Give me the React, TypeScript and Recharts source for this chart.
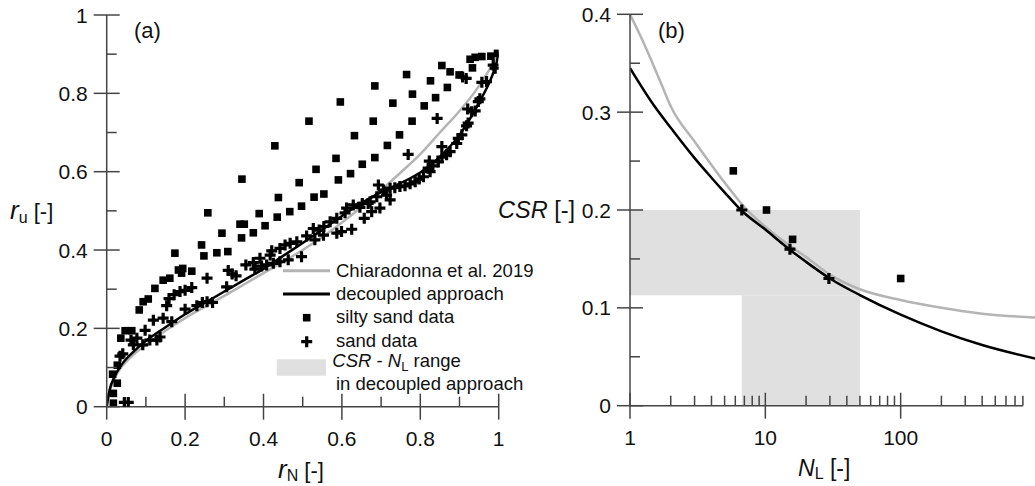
import {
  ComposedChart,
  Legend,
  Line,
  ReferenceArea,
  ReferenceLine,
  Scatter,
  XAxis,
  YAxis,
} from "recharts";

const FONT = "'Liberation Sans', Arial, sans-serif";
const AXIS = "#444";
const GRAY = "#b4b4b4";
const SHADE = "#e0e0e0";
const TXT = "#111";

// ---------- panel (a): r_u vs r_N ----------
const rTicks = [0, 0.1, 0.2, 0.3, 0.4, 0.5, 0.6, 0.7, 0.8, 0.9, 1];

const chiaradonnaA: [number, number][] = [
  [0, 0], [0.005, 0.03], [0.015, 0.06], [0.03, 0.09], [0.06, 0.125], [0.1, 0.158],
  [0.15, 0.194], [0.2, 0.226], [0.25, 0.255], [0.3, 0.283], [0.35, 0.312], [0.4, 0.341],
  [0.45, 0.37], [0.5, 0.4], [0.55, 0.433], [0.6, 0.47], [0.65, 0.51], [0.7, 0.553],
  [0.75, 0.598], [0.8, 0.645], [0.85, 0.7], [0.9, 0.755], [0.94, 0.805], [0.97, 0.85],
  [0.99, 0.885], [0.998, 0.9],
];

const decoupledA: [number, number][] = [
  [0, 0], [0.008, 0.045], [0.02, 0.077], [0.04, 0.11], [0.07, 0.142], [0.1, 0.168],
  [0.15, 0.203], [0.2, 0.236], [0.25, 0.265], [0.3, 0.294], [0.35, 0.323], [0.4, 0.352],
  [0.45, 0.385], [0.5, 0.418], [0.55, 0.452], [0.6, 0.487], [0.65, 0.52], [0.7, 0.548],
  [0.75, 0.571], [0.8, 0.598], [0.85, 0.638], [0.9, 0.694], [0.94, 0.758], [0.96, 0.795],
  [0.975, 0.825], [0.986, 0.852], [0.993, 0.872], [0.997, 0.89], [0.999, 0.905],
];

const siltySandA: [number, number][] = [
  [0.017, 0.009], [0.017, 0.034], [0.027, 0.06], [0.015, 0.083], [0.027, 0.106],
  [0.036, 0.175], [0.047, 0.194], [0.064, 0.194], [0.083, 0.247], [0.093, 0.268],
  [0.106, 0.275], [0.123, 0.302], [0.144, 0.323], [0.161, 0.328], [0.174, 0.392],
  [0.183, 0.349], [0.194, 0.353], [0.191, 0.341], [0.217, 0.346], [0.242, 0.413],
  [0.248, 0.385], [0.258, 0.495], [0.281, 0.393], [0.309, 0.396], [0.294, 0.443],
  [0.344, 0.431], [0.34, 0.466], [0.351, 0.466], [0.345, 0.581], [0.374, 0.444],
  [0.389, 0.493], [0.404, 0.462], [0.429, 0.666], [0.438, 0.534], [0.435, 0.484],
  [0.467, 0.498], [0.491, 0.572], [0.497, 0.512], [0.516, 0.729], [0.529, 0.535],
  [0.534, 0.606], [0.554, 0.543], [0.585, 0.634], [0.591, 0.579], [0.596, 0.778],
  [0.622, 0.595], [0.632, 0.692], [0.652, 0.619], [0.684, 0.636], [0.684, 0.819],
  [0.68, 0.729], [0.716, 0.667], [0.73, 0.775], [0.747, 0.694], [0.765, 0.848],
  [0.779, 0.729], [0.78, 0.798], [0.81, 0.768], [0.826, 0.832], [0.839, 0.789],
  [0.855, 0.871], [0.869, 0.815], [0.876, 0.855], [0.899, 0.847], [0.933, 0.865],
  [0.927, 0.887], [0.94, 0.892], [0.957, 0.894], [0.98, 0.895], [0.997, 0.902],
];

const sandA: [number, number][] = [
  [0.055, 0.011], [0.045, 0.011], [0.041, 0.135], [0.034, 0.129], [0.068, 0.158],
  [0.077, 0.175], [0.062, 0.17], [0.098, 0.195], [0.092, 0.158], [0.11, 0.17],
  [0.128, 0.17], [0.136, 0.178], [0.119, 0.221], [0.144, 0.226], [0.166, 0.217],
  [0.153, 0.258], [0.159, 0.276], [0.172, 0.286], [0.187, 0.294], [0.2, 0.297],
  [0.217, 0.304], [0.2, 0.249], [0.23, 0.258], [0.244, 0.266], [0.256, 0.268],
  [0.27, 0.266], [0.256, 0.328], [0.306, 0.306], [0.31, 0.348], [0.32, 0.339],
  [0.33, 0.334], [0.355, 0.362], [0.374, 0.368], [0.391, 0.379], [0.417, 0.387],
  [0.421, 0.398], [0.442, 0.404], [0.455, 0.413], [0.468, 0.417], [0.485, 0.421],
  [0.378, 0.351], [0.395, 0.359], [0.408, 0.362], [0.425, 0.366], [0.442, 0.37],
  [0.463, 0.375], [0.497, 0.383], [0.51, 0.436], [0.527, 0.455], [0.542, 0.451],
  [0.554, 0.46], [0.57, 0.472], [0.587, 0.481], [0.531, 0.426], [0.553, 0.438],
  [0.587, 0.443], [0.599, 0.447], [0.625, 0.453], [0.612, 0.507], [0.608, 0.495],
  [0.629, 0.515], [0.646, 0.509], [0.652, 0.519], [0.672, 0.523], [0.689, 0.536],
  [0.693, 0.566], [0.657, 0.481], [0.676, 0.498], [0.697, 0.507], [0.667, 0.519],
  [0.706, 0.553], [0.714, 0.54], [0.723, 0.528], [0.723, 0.558], [0.735, 0.559],
  [0.748, 0.562], [0.761, 0.564], [0.774, 0.569], [0.787, 0.574], [0.797, 0.581],
  [0.808, 0.587], [0.825, 0.6], [0.82, 0.609], [0.832, 0.615], [0.823, 0.627],
  [0.769, 0.644], [0.843, 0.736], [0.846, 0.625], [0.855, 0.637], [0.867, 0.643],
  [0.876, 0.651], [0.855, 0.664], [0.893, 0.672], [0.897, 0.685], [0.906, 0.694],
  [0.918, 0.717], [0.922, 0.724], [0.921, 0.76], [0.931, 0.753], [0.94, 0.755],
  [0.948, 0.779], [0.952, 0.786], [0.908, 0.842], [0.917, 0.838], [0.957, 0.828],
  [0.969, 0.83], [0.986, 0.872], [0.991, 0.864],
];

// ---------- panel (b): CSR vs N_L ----------
const csrTicks = [0, 0.05, 0.1, 0.15, 0.2, 0.25, 0.3, 0.35, 0.4];
const nlTicks = [
  1, 2, 3, 4, 5, 6, 7, 8, 9, 10, 20, 30, 40, 50, 60, 70, 80, 90, 100, 200, 300, 400,
  500, 600, 700, 800,
];

const chiaradonnaB: [number, number][] = [
  [1, 0.4], [1.25, 0.372], [1.5, 0.347], [1.75, 0.325], [2, 0.306], [3, 0.27],
  [4, 0.246], [5, 0.228], [6, 0.214], [7, 0.203], [10, 0.183], [15, 0.164],
  [20, 0.152], [30, 0.134], [50, 0.119], [100, 0.108], [200, 0.1], [400, 0.094],
  [1000, 0.09],
];

const decoupledB: [number, number][] = [
  [1, 0.345], [1.5, 0.307], [2, 0.284], [3, 0.253], [4, 0.233], [5, 0.218], [6.6, 0.2],
  [10, 0.18], [15, 0.16], [20, 0.147], [30, 0.13], [50, 0.113], [100, 0.093],
  [200, 0.076], [400, 0.062], [1000, 0.048],
];

const siltySandB: [number, number][] = [[5.8, 0.24], [10.2, 0.2], [15.9, 0.17], [100, 0.13]];
const sandB: [number, number][] = [[6.7, 0.2], [15.2, 0.16], [29.5, 0.13]];

const csrRange = [0.113, 0.2];
const nlRange = [6.7, 50];

const pts = (arr: [number, number][]) => arr.map(([x, y]) => ({ x, y }));

const SquareShape = (props: any) => (
  <rect x={props.cx - 3.8} y={props.cy - 3.8} width={7.6} height={7.6} fill="#000" />
);
const PlusShape = (props: any) => (
  <path
    d={`M${props.cx - 5.5},${props.cy}H${props.cx + 5.5}M${props.cx},${props.cy - 5.5}V${props.cy + 5.5}`}
    stroke="#000"
    strokeWidth={3.2}
    fill="none"
  />
);

const isEvenTenth = (v: number) => Math.round(v * 10) % 2 === 0;
const isTenth = (v: number) => Math.abs(v * 10 - Math.round(v * 10)) < 1e-6;
const isDecade = (v: number) => Math.abs(Math.log10(v) - Math.round(Math.log10(v))) < 1e-6;

const makeYTick = (isMajor: (v: number) => boolean) => (props: any) => {
  const { x, y, payload } = props;
  const major = isMajor(payload.value);
  return (
    <g>
      <line x1={major ? x - 13 : x} x2={x + (major ? 13 : 10)} y1={y} y2={y} stroke={AXIS} strokeWidth={1.5} />
      {major && (
        <text x={x - 19} y={y + 7.5} textAnchor="end" fontSize={21} fontFamily={FONT} fill={TXT}>
          {payload.value}
        </text>
      )}
    </g>
  );
};

const makeXTick = (isMajor: (v: number) => boolean) => (props: any) => {
  const { x, y, payload } = props;
  const major = isMajor(payload.value);
  return (
    <g>
      <line x1={x} x2={x} y1={y - (major ? 13 : 10)} y2={major ? y + 13 : y} stroke={AXIS} strokeWidth={1.5} />
      {major && (
        <text x={x} y={y + 39.5} textAnchor="middle" fontSize={21} fontFamily={FONT} fill={TXT}>
          {payload.value}
        </text>
      )}
    </g>
  );
};

function LegendA() {
  const t = { fontSize: 18.5, fontFamily: FONT, fill: TXT };
  return (
    <svg width={270} height={145} style={{ display: "block" }}>
      <line x1={13} x2={60} y1={15.7} y2={15.7} stroke={GRAY} strokeWidth={3} />
      <text x={66} y={21.7} {...t}>Chiaradonna et al. 2019</text>
      <line x1={13} x2={60} y1={39} y2={39} stroke="#000" strokeWidth={3} />
      <text x={66} y={45} {...t}>decoupled approach</text>
      <SquareShape cx={36.7} cy={62.7} />
      <text x={66} y={68.3} {...t}>silty sand data</text>
      <PlusShape cx={36.7} cy={86.7} />
      <text x={66} y={91.7} {...t}>sand data</text>
      <rect x={6.7} y={104.3} width={49.3} height={16.4} fill={SHADE} />
      <text x={62.3} y={112.3} {...t}>
        <tspan fontStyle="italic">CSR</tspan>
        <tspan> - </tspan>
        <tspan fontStyle="italic">N</tspan>
        <tspan fontSize={13} dy={4}>L</tspan>
        <tspan dy={-4}> range</tspan>
      </text>
      <text x={66} y={135} {...t}>in decoupled approach</text>
    </svg>
  );
}

export default function App() {
  return (
    <div
      style={{
        position: "absolute",
        left: 0,
        top: 0,
        width: 1035,
        height: 486,
        overflow: "hidden",
        background: "#fff",
        fontFamily: FONT,
      }}
    >
      <div style={{ position: "absolute", left: 0, top: 0 }}>
        <ComposedChart width={520} height={486} margin={{ top: 15, right: 21.3, bottom: 0, left: 0 }}>
          <XAxis
            type="number"
            dataKey="x"
            domain={[0, 1]}
            ticks={rTicks}
            interval={0}
            allowDataOverflow
            height={79.3}
            tickLine={false}
            tickSize={0}
            tickMargin={0}
            tick={makeXTick(isEvenTenth)}
            axisLine={{ stroke: AXIS, strokeWidth: 1.5 }}
            label={{
              content: () => (
                <text x={278} y={478} fontSize={22} fontFamily={FONT} fill={TXT}>
                  <tspan fontStyle="italic" fontSize={26}>r</tspan>
                  <tspan fontSize={16} dy={3}>N</tspan>
                  <tspan dy={-3}> [-]</tspan>
                </text>
              ),
            }}
          />
          <YAxis
            type="number"
            dataKey="y"
            domain={[0, 1]}
            ticks={rTicks}
            interval={0}
            allowDataOverflow
            width={106.7}
            tickLine={false}
            tickSize={0}
            tickMargin={0}
            tick={makeYTick(isEvenTenth)}
            axisLine={{ stroke: AXIS, strokeWidth: 1.5 }}
            label={{
              content: () => (
                <g>
                  <text x={10} y={219} fontSize={22} fontFamily={FONT} fill={TXT}>
                    <tspan fontStyle="italic" fontSize={26}>r</tspan>
                    <tspan fontSize={16} dy={4}>u</tspan>
                    <tspan dy={-4}> [-]</tspan>
                  </text>
                  <text x={134} y={38} fontSize={22} fontFamily={FONT} fill={TXT}>(a)</text>
                </g>
              ),
            }}
          />
          <Line data={pts(chiaradonnaA)} dataKey="y" type="monotone" stroke={GRAY} strokeWidth={2.5} dot={false} activeDot={false} isAnimationActive={false} />
          <Line data={pts(decoupledA)} dataKey="y" type="monotone" stroke="#000" strokeWidth={2.5} dot={false} activeDot={false} isAnimationActive={false} />
          <Scatter data={pts(siltySandA)} dataKey="y" shape={SquareShape} isAnimationActive={false} />
          <Scatter data={pts(sandA)} dataKey="y" shape={PlusShape} isAnimationActive={false} />
          <Legend
            layout="vertical"
            align="center"
            verticalAlign="middle"
            wrapperStyle={{ left: 270, top: 255, width: 270, height: 145 }}
            content={() => <LegendA />}
          />
        </ComposedChart>
      </div>

      <div style={{ position: "absolute", left: 480, top: 0 }}>
        <ComposedChart width={560} height={486} margin={{ top: 14.3, right: 4, bottom: 0, left: 0 }}>
          <ReferenceArea x1={1} x2={nlRange[1]} y1={csrRange[0]} y2={csrRange[1]} fill={SHADE} fillOpacity={1} stroke="none" />
          <ReferenceArea x1={nlRange[0]} x2={nlRange[1]} y1={0} y2={csrRange[0]} fill={SHADE} fillOpacity={1} stroke="none" />
          <XAxis
            type="number"
            dataKey="x"
            scale="log"
            domain={[1, 1000]}
            ticks={nlTicks}
            interval={0}
            allowDataOverflow
            height={80.3}
            tickLine={false}
            tickSize={0}
            tickMargin={0}
            tick={makeXTick(isDecade)}
            axisLine={false}
            label={{
              content: () => (
                <text x={318} y={476} fontSize={23} fontFamily={FONT} fill={TXT}>
                  <tspan fontStyle="italic">N</tspan>
                  <tspan fontSize={16} dy={3}>L</tspan>
                  <tspan dy={-3}> [-]</tspan>
                </text>
              ),
            }}
          />
          <YAxis
            type="number"
            dataKey="y"
            domain={[0, 0.4]}
            ticks={csrTicks}
            interval={0}
            allowDataOverflow
            width={150}
            tickLine={false}
            tickSize={0}
            tickMargin={0}
            tick={makeYTick(isTenth)}
            axisLine={{ stroke: AXIS, strokeWidth: 1.5 }}
            label={{
              content: () => (
                <g>
                  <text x={18} y={218} fontSize={23.5} fontFamily={FONT} fill={TXT}>
                    <tspan fontStyle="italic">CSR</tspan>
                    <tspan> [-]</tspan>
                  </text>
                  <text x={178} y={38} fontSize={22} fontFamily={FONT} fill={TXT}>(b)</text>
                </g>
              ),
            }}
          />
          <ReferenceLine segment={[{ x: 1, y: 0 }, { x: 800, y: 0 }]} stroke={AXIS} strokeWidth={1.5} />
          <Line data={pts(chiaradonnaB)} dataKey="y" type="monotone" stroke={GRAY} strokeWidth={2.5} dot={false} activeDot={false} isAnimationActive={false} />
          <Line data={pts(decoupledB)} dataKey="y" type="monotone" stroke="#000" strokeWidth={2.5} dot={false} activeDot={false} isAnimationActive={false} />
          <Scatter data={pts(siltySandB)} dataKey="y" shape={SquareShape} isAnimationActive={false} />
          <Scatter data={pts(sandB)} dataKey="y" shape={PlusShape} isAnimationActive={false} />
        </ComposedChart>
      </div>
    </div>
  );
}
